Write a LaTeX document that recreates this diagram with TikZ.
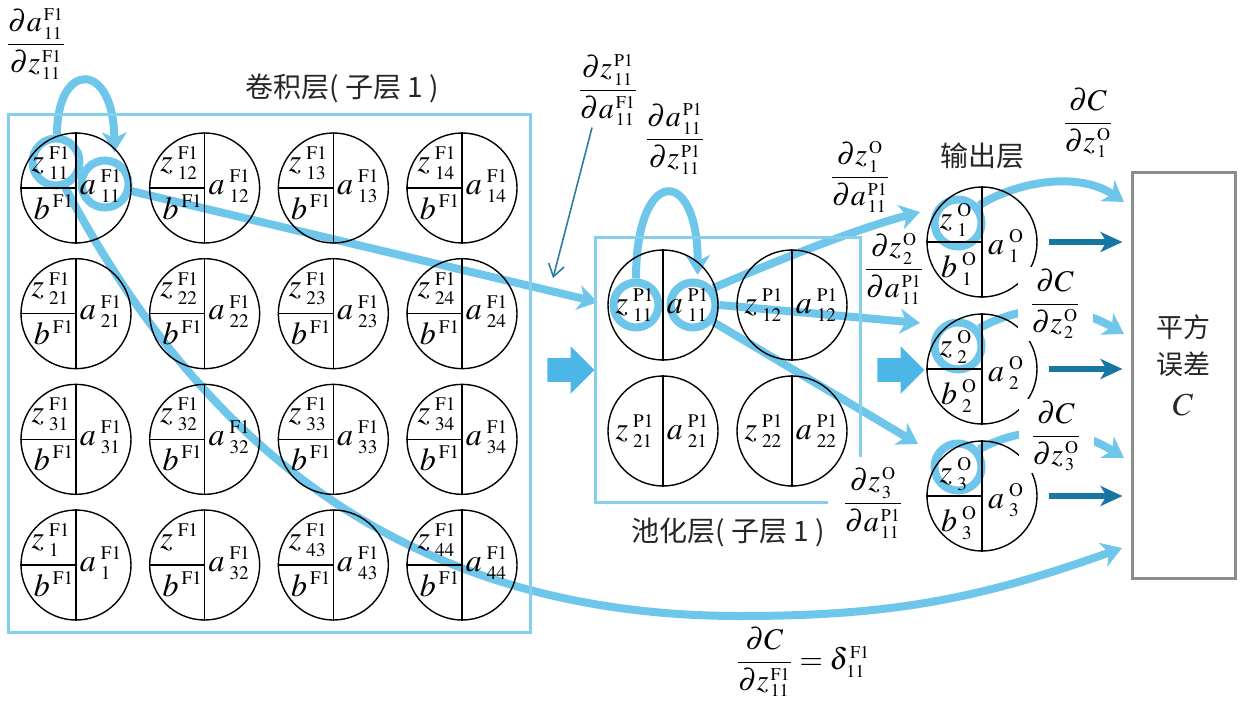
\RequirePackage{fix-cm}
\documentclass[tikz,border=0pt]{standalone}
\usepackage{amsmath}
\usepackage{mathptmx}
\usepackage{fontspec}
\setmainfont{Liberation Serif}
\newfontfamily\cjk{Noto Sans CJK SC}
\usetikzlibrary{arrows.meta}
\usetikzlibrary{calc}
\usetikzlibrary{positioning, shapes.arrows}

\definecolor{lblue}{RGB}{110,198,235}
\definecolor{fblue}{RGB}{76,183,231}
\definecolor{dblue}{RGB}{24,118,163}
\definecolor{tblue}{RGB}{45,125,155}
\definecolor{boxgray}{RGB}{140,140,140}

\newcommand{\upx}[2]{^{\kern1pt\scriptscriptstyle\mathrm{#1}}_{\kern1pt\scriptscriptstyle #2}}
\newcommand{\nv}[3]{$#1^{\kern2.5pt\scriptscriptstyle\mathrm{#2}}_{\kern2.5pt\scriptscriptstyle #3}$}
\newcommand{\nvs}[2]{$#1^{\kern1.5pt\scriptscriptstyle\mathrm{#2}}$}
\newcommand{\pdr}[2]{$\dfrac{\partial #1}{\partial #2}$}

\pgfdeclarelayer{bg}
\pgfsetlayers{bg,main}

\tikzset{
    neuron/.style={
        draw,
        circle,
        line width=0.7pt,
        minimum size=55pt,
        inner sep=0pt
    },
    nlab/.style={font=\fontsize{16}{17}\selectfont, inner sep=0pt},
    pdlab/.style={font=\fontsize{15}{16}\selectfont, inner sep=1pt},
    hilite/.style={
        draw=lblue,
        circle,
        line width=4pt,
        minimum size=23.5pt,
        inner sep=0pt
    },
    grad/.style={draw=lblue, line width=4pt, -{Stealth[length=10pt,width=12.5pt,inset=3pt]}},
    outarr/.style={draw=dblue, line width=3pt, -{Stealth[length=11pt,width=10pt,inset=3pt]}},
    fatarr/.style={
        single arrow,
        fill=fblue,
        minimum height=23.5pt,
        text height=5.75pt,
        text depth=5.75pt,
        single arrow head extend=6pt,
        inner sep=0pt
    },
    layerbox/.style={draw=lblue!85, line width=1.5pt},
    layertxt/.style={font=\cjk\fontsize{14}{18.5}\selectfont, text=black!85}
}

\begin{document}
\begin{tikzpicture}[x=0.5pt, y=-0.5pt]
\useasboundingbox (0,0) rectangle (1242,706);

% convolution layer
\node[layerbox, minimum width=261pt, minimum height=258.5pt] (conv) at (269,373.5) {};
\node[layertxt] (convt) at (342,88) {卷积层( 子层 1 )};
\foreach \row/\col/\zi/\ai in {1/1/11/11,1/2/12/12,1/3/13/13,1/4/14/14,
                               2/1/21/21,2/2/22/22,2/3/23/23,2/4/24/24,
                               3/1/31/31,3/2/32/32,3/3/33/33,3/4/34/34,
                               4/1/1/1,4/2//32,4/3/43/43,4/4/44/44}
{
  \node[neuron] (f\row\col) at ({76+128.67*(\col-1)},{188+125.67*(\row-1)}) {};
  \draw[line width=0.7pt] (f\row\col.north) -- (f\row\col.south) (f\row\col.west) -- (f\row\col.center);
  \node[nlab] (fz\row\col) at ([shift={(-25,-25)}]f\row\col.center) {\nv{z}{F1}{\zi}};
  \node[nlab] (fb\row\col) at ([shift={(-22,19)}]f\row\col.center) {\nvs{b}{F1}};
  \node[nlab] (fa\row\col) at ([shift={(25,-2)}]f\row\col.center) {\nv{a}{F1}{\ai}};
}

% pooling layer
\draw[layerbox] (828,502) -- (595,502) -- (595,237) -- (860,237) -- (860,457);
\node[layertxt] (poolt) at (728,532) {池化层( 子层 1 )};
\foreach \row/\col in {1/1,1/2,2/1,2/2}
{
  \node[neuron] (p\row\col) at ({663+129*(\col-1)},{305+126*(\row-1)}) {};
  \draw[line width=0.7pt] (p\row\col.north) -- (p\row\col.south);
  \node[nlab] (pz\row\col) at ([shift={(-28,0)}]p\row\col.center) {\nv{z}{P1}{\row\col}};
  \node[nlab] (pa\row\col) at ([shift={(25,0)}]p\row\col.center) {\nv{a}{P1}{\row\col}};
}

% output layer
\node[layertxt] (outt) at (982,156) {输出层};
\foreach \k/\yy in {1/242,2/369,3/496}
{
  \node[neuron] (o\k) at (982,\yy) {};
  \draw[line width=0.7pt] (o\k.north) -- (o\k.south) (o\k.west) -- (o\k.center);
  \node[nlab] (oz\k) at ([shift={(-26,-22)}]o\k.center) {\nv{z}{O}{\k}};
  \node[nlab] (ob\k) at ([shift={(-23,27)}]o\k.center) {\nv{b}{O}{\k}};
  \node[nlab] (oa\k) at ([shift={(24,4)}]o\k.center) {\nv{a}{O}{\k}};
}

% cost
\node[draw=boxgray, line width=1.5pt, minimum width=51.5pt, minimum height=203pt, inner sep=0pt] (sq) at (1183.5,375) {};
\node[layertxt, font=\cjk\fontsize{13.5}{18.5}\selectfont, align=center] (sqt) at (1183,365) {平方\\误差\\[2pt]{\fontsize{16}{17}\selectfont$C$}};

\node[fatarr] (big1) at (565,370) {};
\node[fatarr] (big2) at (895,370) {};

\foreach \k in {1,2,3}
  \draw[outarr, shorten <=5.5pt, shorten >=4pt] (o\k.east) -- (sq.west |- o\k.east);

% free ends
\coordinate (tF) at (1122,548);
\coordinate (tO1) at (920,212);
\coordinate (tO2) at (920,323);
\coordinate (tO3) at (918,444);
\coordinate (tC1) at (1124,202);
\coordinate (tC2) at (1124,334);
\coordinate (tC3) at (1124,458);
\coordinate (tP) at (553,278);

\begin{pgfonlayer}{bg}
  \node[hilite] (zr) at ([shift={(-20,-26)}]f11.center) {};
  \node[hilite] (ar) at ([shift={(29,-4)}]f11.center) {};
  \node[hilite, minimum size=22.5pt] (pzr) at ([shift={(-27,0)}]p11.center) {};
  \node[hilite, minimum size=22.5pt] (par) at ([shift={(30,0)}]p11.center) {};
  \foreach \k/\dy in {1/-19,2/-23,3/-29}
    \node[hilite] (ozr\k) at ([shift={(-24,\dy)}]o\k.center) {};

  \draw[grad, shorten >=3pt] (zr.88) .. controls (57,60) and (114,60) .. (ar.70);
  \draw[grad] (zr.-70) .. controls (212,465) and (426,616) .. (740,616)
                       .. controls (892,616) and (979,599) .. (tF);
  \draw[grad, shorten >=6pt] (ar.-15) -- (pzr.west);
  \draw[grad, shorten >=2pt] (pzr.90) .. controls (636,165) and (698,165) .. (par.80);
  \draw[grad] (par.40) .. controls (790,255) and (860,228) .. (tO1);
  \draw[grad] (par.east) -- (tO2);
  \draw[grad] (par.-40) -- (tO3);
  \draw[grad] (ozr1.40) .. controls (1020,180) and (1080,172) .. (tC1);
  \draw[grad] (ozr2.40) .. controls (1030,300) and (1080,308) .. (tC2);
  \draw[grad] (ozr3.40) .. controls (1030,422) and (1080,430) .. (tC3);
\end{pgfonlayer}

% derivative labels
\node[pdlab] (dA) at (36,44) {\pdr{a\upx{F1}{11}}{z\upx{F1}{11}}};
\node[pdlab] (dzP) at (608,90) {\pdr{z\upx{P1}{11}}{a\upx{F1}{11}}};
\node[pdlab] (dAP) at (675,139) {\pdr{a\upx{P1}{11}}{z\upx{P1}{11}}};
\node[pdlab] (dzO1) at (860,177) {\pdr{z\upx{O}{1}}{a\upx{P1}{11}}};
\node[pdlab] (dzO2) at (894,269) {\pdr{z\upx{O}{2}}{a\upx{P1}{11}}};
\node[pdlab] (dzO3) at (873,503) {\pdr{z\upx{O}{3}}{a\upx{P1}{11}}};
\node[pdlab] (dC1) at (1088,123) {\pdr{C}{z\upx{O}{1}}};
\node[pdlab, fill=white, inner xsep=6pt] (dC2) at (1055,304) {\pdr{C}{z\upx{O}{2}}};
\node[pdlab, fill=white, inner xsep=6pt] (dC3) at (1056,436) {\pdr{C}{z\upx{O}{3}}};
\node[pdlab] (dCF) at (803,662) {$\dfrac{\partial C}{\partial z\upx{F1}{11}}=\delta\upx{F1}{11}$};

\draw[tblue, line width=0.8pt, -{Straight Barb[length=6pt,width=8pt]}] ([xshift=-8pt]dzP.south) -- (tP);
\end{tikzpicture}
\end{document}
